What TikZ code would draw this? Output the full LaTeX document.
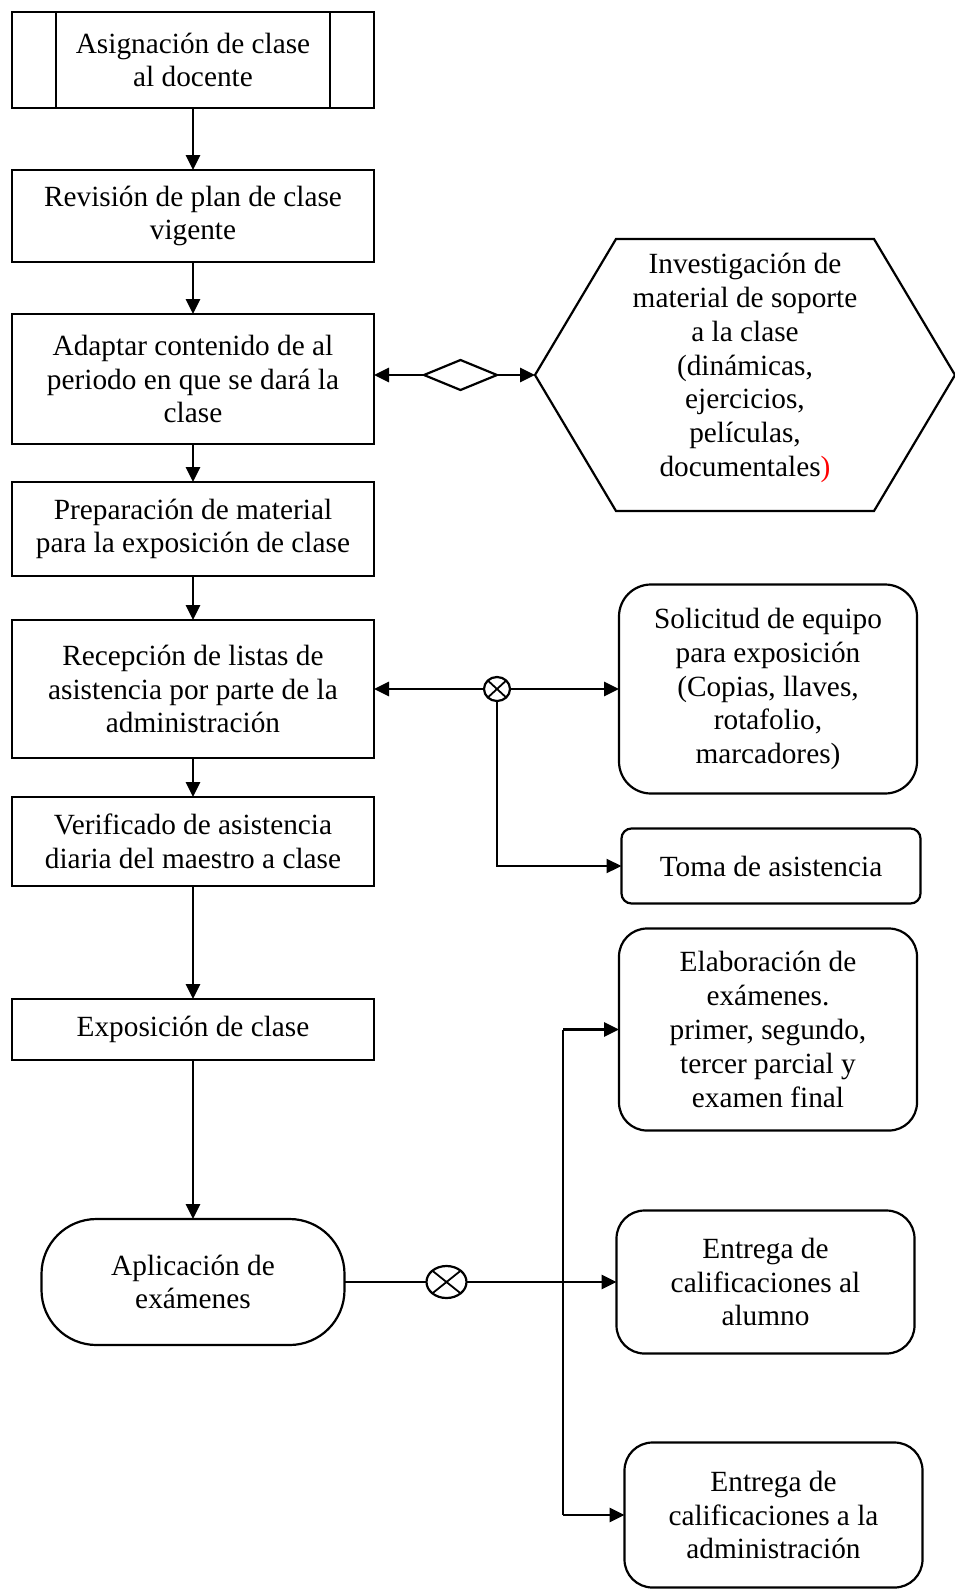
\documentclass[tikz,border=0pt]{standalone}
\usepackage{fontspec}
\setmainfont{Liberation Serif}
\usepackage{xcolor}
\usepackage{tikz}
\usetikzlibrary{positioning}
\usetikzlibrary{shapes.geometric}
\usetikzlibrary{arrows.meta}
\tikzset{box/.style = {draw, line width=2.2pt, align=center, text centered, minimum width=362pt, inner sep=0pt, outer sep=0pt}}
\tikzset{rbox/.style = {draw, line width=2.2pt, rounded corners=28pt, align=center, text centered, minimum width=298pt, inner sep=0pt, outer sep=0pt}}
\tikzset{sumjunc/.style = {draw, ellipse, line width=2.2pt, inner sep=0pt, outer sep=0pt,
  path picture={\draw[line width=1.8pt] (path picture bounding box.north west) -- (path picture bounding box.south east)
    (path picture bounding box.north east) -- (path picture bounding box.south west);}}}
\tikzset{arr/.style = {line width=2.8pt, -{Triangle[length=15pt, width=14pt]}}}

\begin{document}
\begin{tikzpicture}[x=1pt, y=-1pt,
  font=\fontsize{29.3}{33.8}\selectfont
]
\useasboundingbox (0,0) rectangle (955,1590);

% left column
\node[box, minimum height=96pt] (box1) at (193,60) {Asignación de clase\\al docente};
\node[box, minimum height=92pt, below=62pt of box1] (box2) {Revisión de plan de clase\\vigente};
\node[box, minimum height=130pt, below=52pt of box2] (box3) {Adaptar contenido de al\\periodo en que se dará la\\clase};
\node[box, minimum height=94pt, below=38pt of box3] (box4) {Preparación de material\\para la exposición de clase};
\node[box, minimum height=138pt, below=44pt of box4] (box5) {Recepción de listas de\\asistencia por parte de la\\administración};
\node[box, minimum height=89pt, below=39pt of box5] (box6) {Verificado de asistencia\\diaria del maestro a clase};
\node[box, minimum height=61pt, below=113pt of box6] (box7) {Exposición de clase};
\node[box, rounded corners=55pt, minimum width=303pt, minimum height=126pt, below=159pt of box7] (stad) {Aplicación de\\exámenes};

\draw[line width=2.2pt] ([xshift=44pt]box1.north west) -- ([xshift=44pt]box1.south west);
\draw[line width=2.2pt] ([xshift=-44pt]box1.north east) -- ([xshift=-44pt]box1.south east);

% right column
\node[align=center, minimum width=420pt, minimum height=272pt, inner sep=0pt, outer sep=0pt, text depth=20pt, right=161pt of box3, yshift=4pt] (hex) {Investigación de\\material de soporte\\a la clase\\(dinámicas,\\ejercicios,\\películas,\\documentales\textcolor{red}{)}};
\draw[line width=2.2pt] (hex.west) -- ([xshift=81pt]hex.north west) -- ([xshift=-81pt]hex.north east) -- (hex.east)
  -- ([xshift=-81pt]hex.south east) -- ([xshift=81pt]hex.south west) -- cycle;
\node[draw, diamond, line width=2.2pt, minimum width=73pt, minimum height=30pt, inner sep=0pt, outer sep=0pt, right=50pt of box3, yshift=4pt] (dia) {};

\node[rbox, rounded corners=32pt, minimum height=209pt, right=245pt of box5] (sol) {Solicitud de equipo\\para exposición\\(Copias, llaves,\\rotafolio,\\marcadores)};
\node[rbox, rounded corners=10pt, minimum width=299pt, minimum height=75pt, below=35pt of sol, xshift=3pt] (toma) {Toma de asistencia};
\node[sumjunc, minimum width=26pt, minimum height=24pt, right=110pt of box5] (ox1) {};

\node[rbox, minimum height=202pt, right=245pt of box7] (elab) {Elaboración de\\exámenes.\\primer, segundo,\\tercer parcial y\\examen final};
\node[rbox, minimum height=143pt, right=272pt of stad] (ealu) {Entrega de\\calificaciones al\\alumno};
\node[rbox, minimum height=145pt, below=89pt of ealu, xshift=8pt] (eadm) {Entrega de\\calificaciones a la\\administración};
\node[sumjunc, minimum width=40pt, minimum height=32pt, right=82pt of stad] (ox2) {};
\coordinate[left=56pt of elab] (vtop);

\draw[arr] (box1) -- (box2);
\draw[arr] (box2) -- (box3);
\draw[arr] (box3) -- (box4);
\draw[arr] (box4) -- (box5);
\draw[arr] (box5) -- (box6);
\draw[arr] (box6) -- (box7);
\draw[arr] (box7) -- (stad);

\draw[arr] (dia.west) -- (dia.west -| box3.east);
\draw[arr] (dia.east) -- (hex.west);
\draw[arr] (ox1) -- (box5);
\draw[arr] (ox1) -- (sol);
\draw[arr, line width=2.2pt] (ox1.south) |- (toma);
\draw[arr] (stad) -- (ox2) -- (ealu);
\draw[line width=1.6pt] (vtop) -- (vtop |- eadm);
\draw[arr] (vtop) -- (elab);
\draw[arr] (vtop |- eadm) -- (eadm);

\end{tikzpicture}
\end{document}
